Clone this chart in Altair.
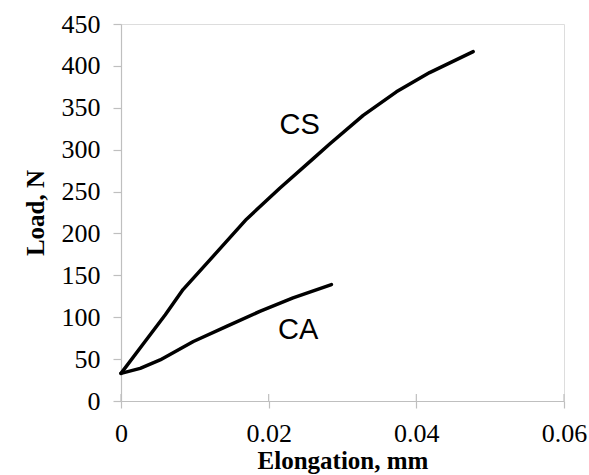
import altair as alt
import pandas as pd

cs_x = [0, 0.0030, 0.0060, 0.0084, 0.0125, 0.0170, 0.0215, 0.0260, 0.0283,
        0.0328, 0.0373, 0.0418, 0.0477]
cs_y = [33, 68, 103, 133, 173, 217, 254, 289, 307, 341, 369, 392, 417]

ca_x = [0, 0.0026, 0.0053, 0.0098, 0.0143, 0.0188, 0.0233, 0.0285]
ca_y = [33, 39, 49, 71, 89, 107, 123, 139]

label_text = ["CS", "CA"]
label_x = [0.0242, 0.0240]
label_y = [330, 85]

x_ticks = [0, 0.02, 0.04, 0.06]
y_ticks = list(range(0, 451, 50))

rows = []
for x, y in zip(cs_x, cs_y):
    rows.append({"series": "CS", "x": x, "y": y})
for x, y in zip(ca_x, ca_y):
    rows.append({"series": "CA", "x": x, "y": y})
df = pd.DataFrame(rows)
labels = pd.DataFrame({"text": label_text, "x": label_x, "y": label_y})
ticks_df = pd.DataFrame({"x": x_ticks})

W, H = 443, 377
SERIF = "Liberation Serif"
xscale = alt.Scale(domain=[0, 0.06], nice=False, zero=True)
yscale = alt.Scale(domain=[0, 450], nice=False)

xaxis = alt.Axis(
    title="Elongation, mm", values=x_ticks, format="~g",
    grid=False, domainColor="#bfbfbf", tickColor="#bfbfbf", tickSize=7,
    domainWidth=1.2, tickWidth=1.2,
    labelFont=SERIF, labelFontSize=26, labelColor="#000", labelPadding=12,
    titleFont=SERIF, titleFontSize=25, titleFontWeight="bold", titleColor="#000",
    titlePadding=2, labelFlush=False,
)
yaxis = alt.Axis(
    title="Load, N", values=y_ticks,
    grid=False, domainColor="#bfbfbf", tickColor="#bfbfbf", tickSize=8,
    domainWidth=1.2, tickWidth=1.2,
    labelFont=SERIF, labelFontSize=26, labelColor="#000", labelPadding=13,
    titleFont=SERIF, titleFontSize=25, titleFontWeight="bold", titleColor="#000",
    titlePadding=13, labelFlush=False,
)

lines = alt.Chart(df).mark_line(color="black", strokeWidth=3.5, strokeJoin="round", strokeCap="round").encode(
    x=alt.X("x:Q", scale=xscale, axis=xaxis),
    y=alt.Y("y:Q", scale=yscale, axis=yaxis),
    detail="series:N",
    order="x:Q",
)

# inner half of Excel-style crossing x-axis tick marks
inner_ticks = alt.Chart(ticks_df).mark_rule(color="#bfbfbf", strokeWidth=1.2).encode(
    x=alt.X("x:Q", scale=xscale),
    y=alt.value(H - 7),
    y2=alt.value(H),
)

text = alt.Chart(labels).mark_text(font="Liberation Sans", fontSize=29, color="black",
                                   align="center", baseline="middle").encode(
    x=alt.X("x:Q", scale=xscale),
    y=alt.Y("y:Q", scale=yscale),
    text="text:N",
)

chart = (inner_ticks + lines + text).properties(
    width=W, height=H,
    autosize=alt.AutoSizeParams(type="none"),
    padding={"left": 121, "top": 24, "right": 25, "bottom": 74},
).configure_view(stroke=None).configure_axis(
    labelFont=SERIF, titleFont=SERIF
).configure(background="white")

chart.save("out.html", embed_options={"renderer": "svg", "actions": False})
